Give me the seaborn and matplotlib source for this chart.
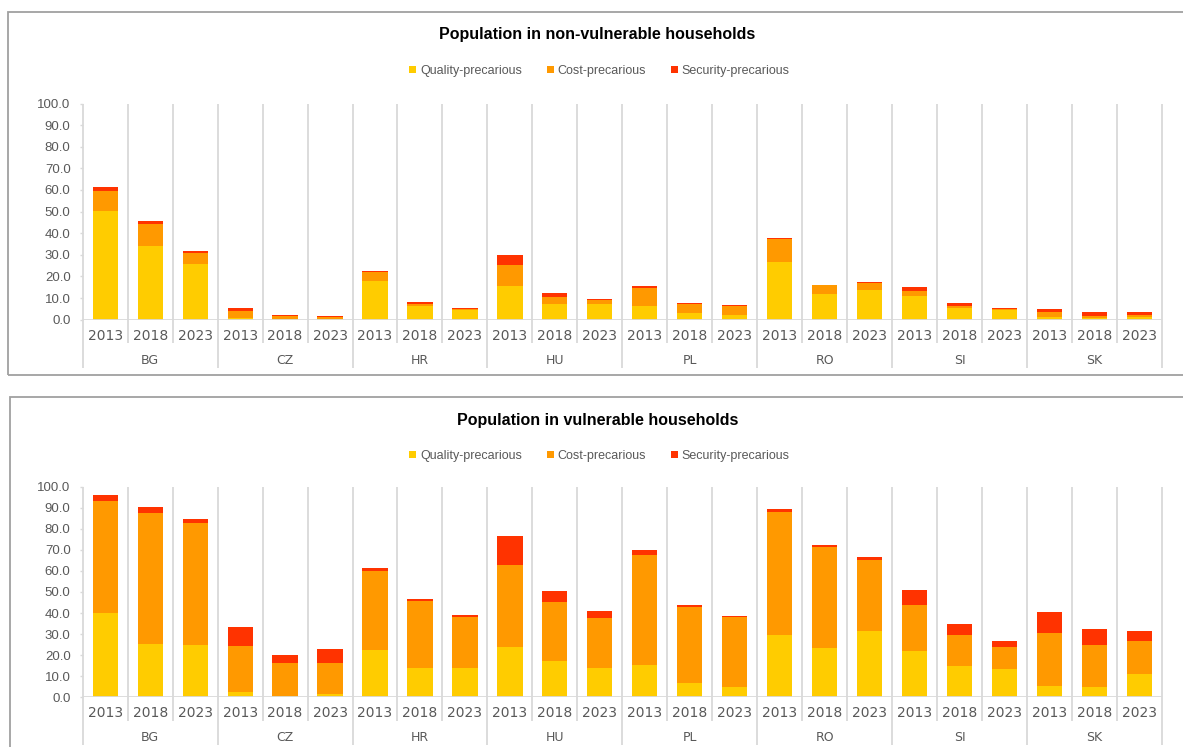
import numpy as np
import pandas as pd
import matplotlib
matplotlib.use("Agg")
import matplotlib.pyplot as plt
from matplotlib.patches import Patch, Rectangle
import seaborn as sns

# Countries and survey years (x axis, two levels)
countries = ["BG", "CZ", "HR", "HU", "PL", "RO", "SI", "SK"]
years = ["2013", "2018", "2023"]

# Population in non-vulnerable households (%), by component
nonvuln_quality = [50.1, 33.9, 25.9, 0.8, 0.5, 0.5, 18.0, 6.3, 4.6, 15.7, 7.4, 7.4,
                   6.3, 3.1, 2.2, 26.7, 12.0, 13.9, 11.1, 5.5, 4.3, 1.4, 0.8, 1.1]
nonvuln_cost = [9.5, 10.2, 5.1, 3.4, 1.0, 0.6, 3.9, 1.1, 0.3, 9.4, 2.9, 1.5,
                8.2, 4.1, 4.0, 10.4, 3.9, 3.0, 2.0, 1.0, 0.5, 2.3, 1.0, 1.1]
nonvuln_security = [1.7, 1.5, 0.9, 1.3, 0.7, 0.7, 0.6, 0.9, 0.6, 4.9, 1.9, 0.8,
                    1.2, 0.7, 0.7, 0.7, 0.3, 0.7, 2.2, 1.1, 0.7, 1.4, 1.6, 1.2]

# Population in vulnerable households (%), by component
vuln_quality = [40.2, 25.3, 24.8, 2.5, 0.8, 1.7, 22.6, 13.8, 14.1, 23.7, 17.2, 14.1,
                15.3, 6.8, 4.9, 29.4, 23.4, 31.5, 22.0, 14.9, 13.4, 5.2, 4.9, 11.2]
vuln_cost = [53.0, 62.4, 58.0, 21.9, 15.5, 14.6, 37.5, 31.8, 24.0, 39.0, 28.1, 23.6,
             52.1, 35.9, 33.2, 58.6, 48.1, 33.7, 21.7, 14.5, 10.3, 25.2, 19.8, 15.4]
vuln_security = [2.7, 2.5, 1.7, 9.0, 3.8, 6.5, 1.1, 1.2, 1.0, 13.9, 5.2, 3.3,
                 2.4, 1.3, 0.7, 1.4, 0.7, 1.4, 7.1, 5.3, 3.2, 10.1, 7.9, 4.9]

series_names = ["Quality-precarious", "Cost-precarious", "Security-precarious"]
series_colors = ["#FFCC00", "#FF9900", "#FF3300"]

panels = [
    ("Population in non-vulnerable households",
     nonvuln_quality, nonvuln_cost, nonvuln_security),
    ("Population in vulnerable households",
     vuln_quality, vuln_cost, vuln_security),
]

sns.set_theme(style="white")
plt.rcParams["font.family"] = ["Liberation Sans", "DejaVu Sans"]

W, H = 1183, 747
fig = plt.figure(figsize=(W / 100, H / 100), dpi=100)
fig.patch.set_facecolor("white")

GRID = "#d9d9d9"
TXT = "#595959"

# pixel layout of each panel: axes top, axes bottom, title y, legend y, frame top/bottom/left
layout = [
    dict(top=103.5, bot=319.7, title=35, legend=71, ftop=11.7, fbot=374.5, fleft=7.7),
    dict(top=486.7, bot=697.3, title=420, legend=456, ftop=397.0, fbot=760.0, fleft=9.7),
]
ax_left, ax_right = 82.7, 1162.0

slots = [f"{c} {y}" for c in countries for y in years]

for (title, q, c, s), L in zip(panels, layout):
    top, bot = L["top"], L["bot"]
    # panel frame
    fig.patches.append(Rectangle((L["fleft"] / W, 1 - L["fbot"] / H),
                                 (W + 20 - L["fleft"]) / W,
                                 (L["fbot"] - L["ftop"]) / H,
                                 transform=fig.transFigure, fill=False,
                                 edgecolor="#a0a0a0", lw=1.3, zorder=0))

    ax = fig.add_axes([ax_left / W, 1 - bot / H, (ax_right - ax_left) / W, (bot - top) / H])
    ax_h = bot - top

    q = np.array(q)
    c = np.array(c)
    s = np.array(s)
    df = pd.DataFrame({
        "slot": slots,
        "quality": q,
        "quality_cost": q + c,
        "total": q + c + s,
    })
    # stacked bars drawn as overlaid cumulative totals
    for col, color in zip(["total", "quality_cost", "quality"], series_colors[::-1]):
        sns.barplot(data=df, x="slot", y=col, order=slots, color=color,
                    saturation=1, width=0.56, errorbar=None, ax=ax, zorder=3,
                    linewidth=0, edgecolor="none")

    ax.set_xlim(-0.5, len(slots) - 0.5)
    ax.set_ylim(0, 100)
    ax.set_yticks(np.arange(0, 101, 10))
    ax.set_yticklabels([f"{v:.1f}" for v in np.arange(0, 101, 10)], color=TXT, fontsize=9.5)
    ax.tick_params(axis="y", length=2.2, width=1.0, color=GRID, pad=6.5, left=True)
    ax.set_xticks([])
    ax.set_xlabel("")
    ax.set_ylabel("")
    ax.grid(False)
    for sp in ax.spines.values():
        sp.set_visible(False)

    xtr = ax.get_xaxis_transform()
    short = -23.3 / ax_h
    long = -48.0 / ax_h
    # category separators: full height, extending below into the label rows
    for k in range(len(slots) + 1):
        ybot = long if k % 3 == 0 else short
        ax.plot([k - 0.5, k - 0.5], [ybot, 1.0], transform=xtr, color=GRID,
                lw=1.3, clip_on=False, zorder=1, solid_capstyle="butt")
    ax.axhline(0, color=GRID, lw=2.0, zorder=4)

    # year labels and country group labels
    for i, lab in enumerate(slots):
        ax.text(i, -15.8 / ax_h, lab.split()[1], transform=xtr, ha="center", va="center",
                fontsize=10, color=TXT, family="DejaVu Sans")
    for g, cname in enumerate(countries):
        ax.text(3 * g + 1, -40.3 / ax_h, cname, transform=xtr, ha="center", va="center",
                fontsize=9, color=TXT, family="DejaVu Sans")

    fig.text(597.5 / W, 1 - L["title"] / H, title, ha="center", va="center",
             fontsize=11.5, fontweight="bold", color="black")

    handles = [Patch(facecolor=col, edgecolor="none") for col in series_colors]
    fig.legend(handles, series_names, loc="center",
               bbox_to_anchor=(599.5 / W, 1 - L["legend"] / H),
               ncol=3, frameon=False, fontsize=9, labelcolor=TXT,
               handlelength=0.55, handleheight=0.55, handletextpad=0.3,
               columnspacing=2.0, borderaxespad=0, borderpad=0)

fig.savefig("out.png", dpi=100, facecolor="white")
